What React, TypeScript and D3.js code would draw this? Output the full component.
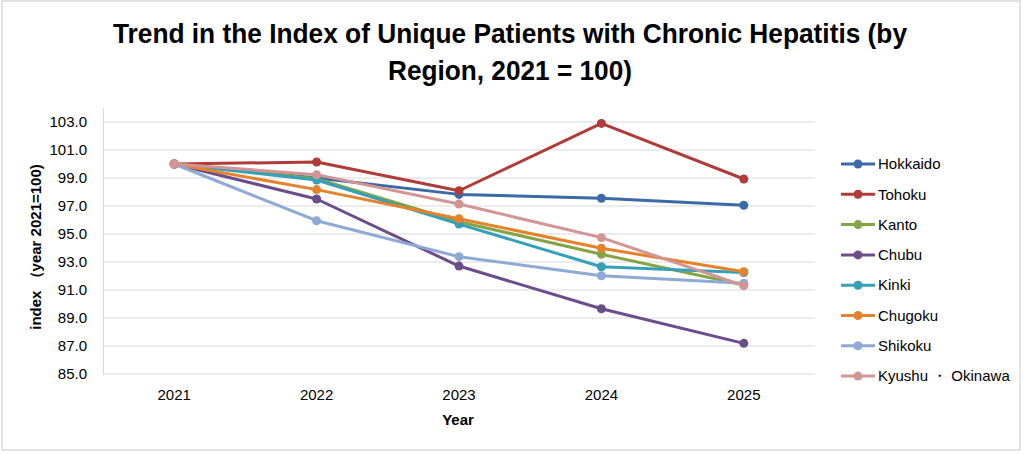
import React, { useEffect, useRef } from "react";
import * as d3 from "d3";

const years = ["2021", "2022", "2023", "2024", "2025"];
const regions = ["Hokkaido", "Tohoku", "Kanto", "Chubu", "Kinki", "Chugoku", "Shikoku", "Kyushu ・ Okinawa"];
const colors = ["#3b6aa6", "#b03c3a", "#84a546", "#6b4d8c", "#35a0b8", "#e5832c", "#8eaad4", "#d39593"];

const hokkaido = [100, 99.0, 97.83, 97.55, 97.05];
const tohoku = [100, 100.14, 98.09, 102.9, 98.93];
const kanto = [100, 98.95, 95.88, 93.55, 91.36];
const chubu = [100, 97.5, 92.71, 89.66, 87.19];
const kinki = [100, 98.86, 95.71, 92.66, 92.25];
const chugoku = [100, 98.17, 96.09, 93.98, 92.31];
const shikoku = [100, 95.95, 93.38, 92.02, 91.48];
const kyushu = [100, 99.24, 97.14, 94.74, 91.31];

const yTicks = [85, 87, 89, 91, 93, 95, 97, 99, 101, 103];

const W = 1024;
const H = 454;
const FONT = "'Liberation Sans', Arial, sans-serif";

const App: React.FC = () => {
  const svgRef = useRef<SVGSVGElement | null>(null);

  useEffect(() => {
    const series = [hokkaido, tohoku, kanto, chubu, kinki, chugoku, shikoku, kyushu];
    const svg = d3.select(svgRef.current);
    svg.selectAll("*").remove();

    svg.append("rect").attr("width", W).attr("height", H).attr("fill", "#ffffff");
    svg
      .append("rect")
      .attr("x", 2)
      .attr("y", 1)
      .attr("width", 1018)
      .attr("height", 449)
      .attr("fill", "none")
      .attr("stroke", "#d9d9d9")
      .attr("stroke-width", 1.5);

    // scales
    const x = d3.scalePoint<string>().domain(years).range([103, 815]).padding(0.5);
    const y = d3.scaleLinear().domain([85, 104]).range([374, 108]);

    // gridlines
    svg
      .append("g")
      .selectAll("line")
      .data(yTicks)
      .join("line")
      .attr("x1", 103)
      .attr("x2", 815)
      .attr("y1", (d) => y(d))
      .attr("y2", (d) => y(d))
      .attr("stroke", "#d9d9d9")
      .attr("stroke-width", 1);

    // left axis line
    svg
      .append("line")
      .attr("x1", 103.5)
      .attr("x2", 103.5)
      .attr("y1", y(104))
      .attr("y2", y(85))
      .attr("stroke", "#d9d9d9");

    // y tick labels
    svg
      .append("g")
      .selectAll("text")
      .data(yTicks)
      .join("text")
      .attr("x", 87)
      .attr("y", (d) => y(d))
      .attr("dy", "0.35em")
      .attr("text-anchor", "end")
      .attr("font-family", FONT)
      .attr("font-size", 15)
      .attr("fill", "#000")
      .text((d) => d.toFixed(1));

    // x tick labels
    svg
      .append("g")
      .selectAll("text")
      .data(years)
      .join("text")
      .attr("x", (d) => x(d) as number)
      .attr("y", 400)
      .attr("text-anchor", "middle")
      .attr("font-family", FONT)
      .attr("font-size", 15)
      .attr("fill", "#000")
      .text((d) => d);

    // axis titles
    svg
      .append("text")
      .attr("x", 458)
      .attr("y", 425)
      .attr("text-anchor", "middle")
      .attr("font-family", FONT)
      .attr("font-size", 15)
      .attr("font-weight", "bold")
      .text("Year");

    svg
      .append("text")
      .attr("transform", "translate(41,247) rotate(-90)")
      .attr("text-anchor", "middle")
      .attr("font-family", FONT)
      .attr("font-size", 15)
      .attr("font-weight", "bold")
      .text("index （year 2021=100)");

    // title
    const title = svg
      .append("g")
      .attr("font-family", "'Liberation Sans Narrow', 'Liberation Sans', Arial, sans-serif")
      .attr("font-size", 28)
      .attr("font-weight", "bold")
      .attr("text-anchor", "middle");
    title
      .append("text")
      .attr("x", 510)
      .attr("y", 43)
      .attr("textLength", 794)
      .attr("lengthAdjust", "spacingAndGlyphs")
      .text("Trend in the Index of Unique Patients with Chronic Hepatitis (by");
    title
      .append("text")
      .attr("x", 510)
      .attr("y", 80)
      .attr("textLength", 244)
      .attr("lengthAdjust", "spacingAndGlyphs")
      .text("Region, 2021 = 100)");

    // lines
    const line = d3
      .line<number>()
      .x((_, i) => x(years[i]) as number)
      .y((d) => y(d));

    series.forEach((vals, si) => {
      const g = svg.append("g");
      g.append("path")
        .attr("d", line(vals))
        .attr("fill", "none")
        .attr("stroke", colors[si])
        .attr("stroke-width", 3)
        .attr("stroke-linejoin", "round")
        .attr("stroke-linecap", "round");
      g.selectAll("circle")
        .data(vals)
        .join("circle")
        .attr("cx", (_, i) => x(years[i]) as number)
        .attr("cy", (d) => y(d))
        .attr("r", 4.5)
        .attr("fill", colors[si]);
    });

    // legend
    const legend = svg
      .append("g")
      .selectAll("g")
      .data(regions)
      .join("g")
      .attr("transform", (_, i) => `translate(841,${164 + i * 30.3})`);
    legend
      .append("line")
      .attr("x1", 0)
      .attr("x2", 34)
      .attr("stroke", (_, i) => colors[i])
      .attr("stroke-width", 3);
    legend
      .append("circle")
      .attr("cx", 17)
      .attr("r", 4.5)
      .attr("fill", (_, i) => colors[i]);
    legend
      .append("text")
      .attr("x", 37)
      .attr("dy", "0.35em")
      .attr("font-family", FONT)
      .attr("font-size", 15)
      .attr("fill", "#000")
      .text((d) => d);
  }, []);

  return (
    <div style={{ position: "absolute", left: 0, top: 0, width: W, height: H }}>
      <svg ref={svgRef} width={W} height={H}></svg>
    </div>
  );
};

export default App;
